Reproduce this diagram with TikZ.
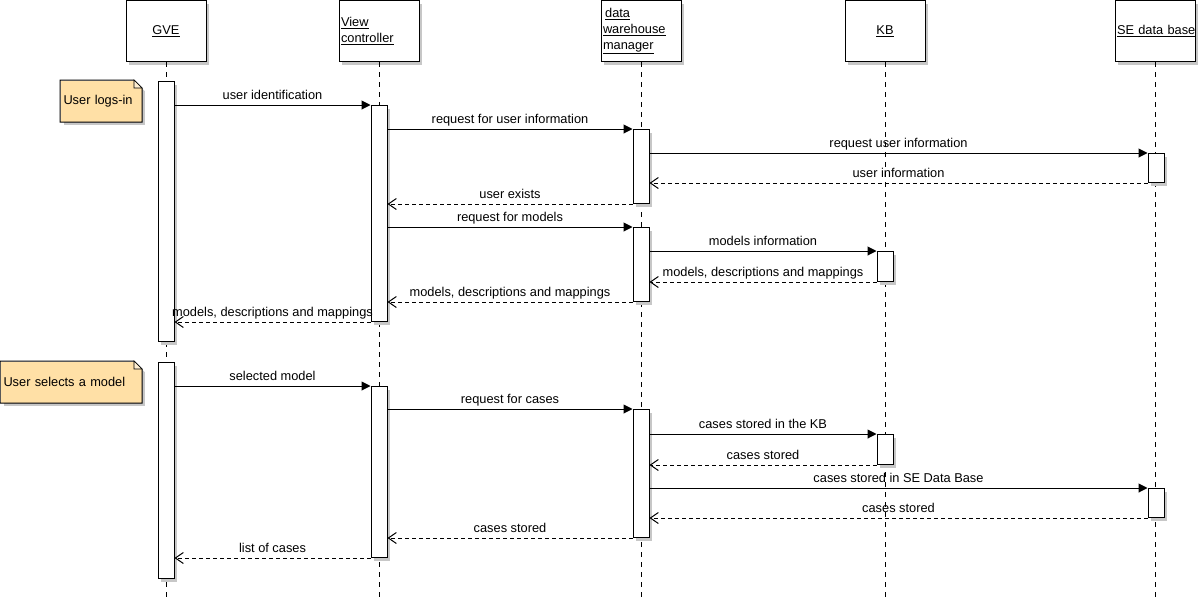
\documentclass[tikz,border=0pt]{standalone}
\usepackage{fontspec}
\setmainfont{Liberation Sans}
\usepackage{tikz}
\usetikzlibrary{arrows.meta,shadows,positioning}

\definecolor{notefill}{RGB}{255,224,166}

\begin{document}
\begin{tikzpicture}[x=1pt,y=-1pt,line width=1pt,
                    font=\fontsize{12.8}{14}\selectfont,
                    shade/.style={drop shadow={shadow xshift=3pt,shadow yshift=-3pt,fill=black!22,opacity=1}},
                    actor/.style={draw,fill=white,shade,anchor=north,minimum width=80pt,minimum height=61pt,
                                  text width=76pt,inner sep=2pt,font=\fontsize{12.8}{16}\selectfont},
                    act/.style={draw,fill=white,shade,anchor=north,minimum width=16pt,inner sep=0pt},
                    note/.style={fill=notefill,shade,anchor=north west,minimum height=41pt,
                                 inner sep=3pt,align=left},
                    lifeline/.style={dash pattern=on 5pt off 5pt},
                    call/.style={-{Triangle[length=9pt,width=9pt]}},
                    reply/.style={dash pattern=on 4pt off 3pt,-{Straight Barb[length=8pt,width=11pt]}},
                    lbl/.style={anchor=base,yshift=6pt,inner sep=0pt}]
  \useasboundingbox (0,0) rectangle (1200,598);

  % objects
  \node[actor,align=center] (GVE) at (166,0)  {\underline{GVE}};
  \node[actor,align=left]   (VC)  at (379,0)  {\underline{View}\\\underline{controller}};
  \node[actor,align=left]   (DWM) at (641,0)  {\,\underline{data}\\\underline{warehouse}\\\underline{manager}};
  \node[actor,align=center] (KB)  at (885,0)  {\underline{KB}};
  \node[actor,align=center] (SE)  at (1155,0) {\underline{SE data base}};

  \coordinate (GVEend) at (166,598);
  \coordinate (VCend)  at (379,598);
  \coordinate (DWMend) at (641,598);
  \coordinate (KBend)  at (885,598);
  \coordinate (SEend)  at (1155,598);
  \foreach \o in {GVE,VC,DWM,KB,SE}
    \draw[lifeline] (\o) -- (\o end);

  % activations
  \node[act,minimum height=260pt] (GVE1) at (166,81)  {};
  \node[act,minimum height=216pt] (GVE2) at (166,362) {};
  \node[act,minimum height=216pt] (VC1)  at (379,105) {};
  \node[act,minimum height=171pt] (VC2)  at (379,386) {};
  \node[act,minimum height=74pt]  (DWM1) at (641,129) {};
  \node[act,minimum height=74pt]  (DWM2) at (641,227) {};
  \node[act,minimum height=128pt] (DWM3) at (641,409) {};
  \node[act,minimum height=30pt]  (KB1)  at (885,251) {};
  \node[act,minimum height=30pt]  (KB2)  at (885,434) {};
  \node[act,minimum height=29pt]  (SE1)  at (1156,153) {};
  \node[act,minimum height=29pt]  (SE2)  at (1156,488) {};

  % notes
  \node[note,minimum width=81pt,text width=75pt]   (N1) at (60,80) {User logs-in};
  \node[note,minimum width=141pt,text width=135pt] (N2) at (0,361) {User selects a model};
  \foreach \n in {N1,N2} {
    \fill[white] ([xshift=-8pt]\n.north east) -- ([xshift=4pt]\n.north east) -- ([xshift=4pt,yshift=-12pt]\n.north east) -- cycle;
    \draw (\n.north west) -- ([xshift=-8pt]\n.north east) -- ([yshift=-8pt]\n.north east)
          -- (\n.south east) -- (\n.south west) -- cycle;
    \draw[fill=notefill!50,line width=0.6pt] ([xshift=-8pt]\n.north east) -- ([xshift=-8pt,yshift=-8pt]\n.north east)
          -- ([yshift=-8pt]\n.north east) -- cycle;
  }

  % messages
  \path (GVE1.east |- VC1.north) edge[call] node[lbl] {user identification} (VC1.north west)
        (VC1.east |- DWM1.north) edge[call] node[lbl] {request for user information} (DWM1.north west)
        (DWM1.east |- SE1.north) edge[call] node[lbl] {request user information} (SE1.north west)
        (SE1.south west) edge[reply] node[lbl] {user information} (DWM1.east |- SE1.south)
        (DWM1.south west) edge[reply] node[lbl] {user exists} (VC1.east |- DWM1.south)
        (VC1.east |- DWM2.north) edge[call] node[lbl] {request for models} (DWM2.north west)
        (DWM2.east |- KB1.north) edge[call] node[lbl] {models information} (KB1.north west)
        (KB1.south west) edge[reply] node[lbl] {models, descriptions and mappings} (DWM2.east |- KB1.south)
        (DWM2.south west) edge[reply] node[lbl] {models, descriptions and mappings} (VC1.east |- DWM2.south)
        (VC1.south west) edge[reply] node[lbl] {models, descriptions and mappings} (GVE1.east |- VC1.south);

  \path (GVE2.east |- VC2.north) edge[call] node[lbl] {selected model} (VC2.north west)
        (VC2.east |- DWM3.north) edge[call] node[lbl] {request for cases} (DWM3.north west)
        (DWM3.east |- KB2.north) edge[call] node[lbl] {cases stored in the KB} (KB2.north west)
        (KB2.south west) edge[reply] node[lbl] {cases stored} (DWM3.east |- KB2.south)
        (DWM3.east |- SE2.north) edge[call] node[lbl] {cases stored in SE Data Base} (SE2.north west)
        (SE2.south west) edge[reply] node[lbl] {cases stored} (DWM3.east |- SE2.south)
        (DWM3.south west) edge[reply] node[lbl] {cases stored} (VC2.east |- DWM3.south)
        (VC2.south west) edge[reply] node[lbl] {list of cases} (GVE2.east |- VC2.south);
\end{tikzpicture}
\end{document}
